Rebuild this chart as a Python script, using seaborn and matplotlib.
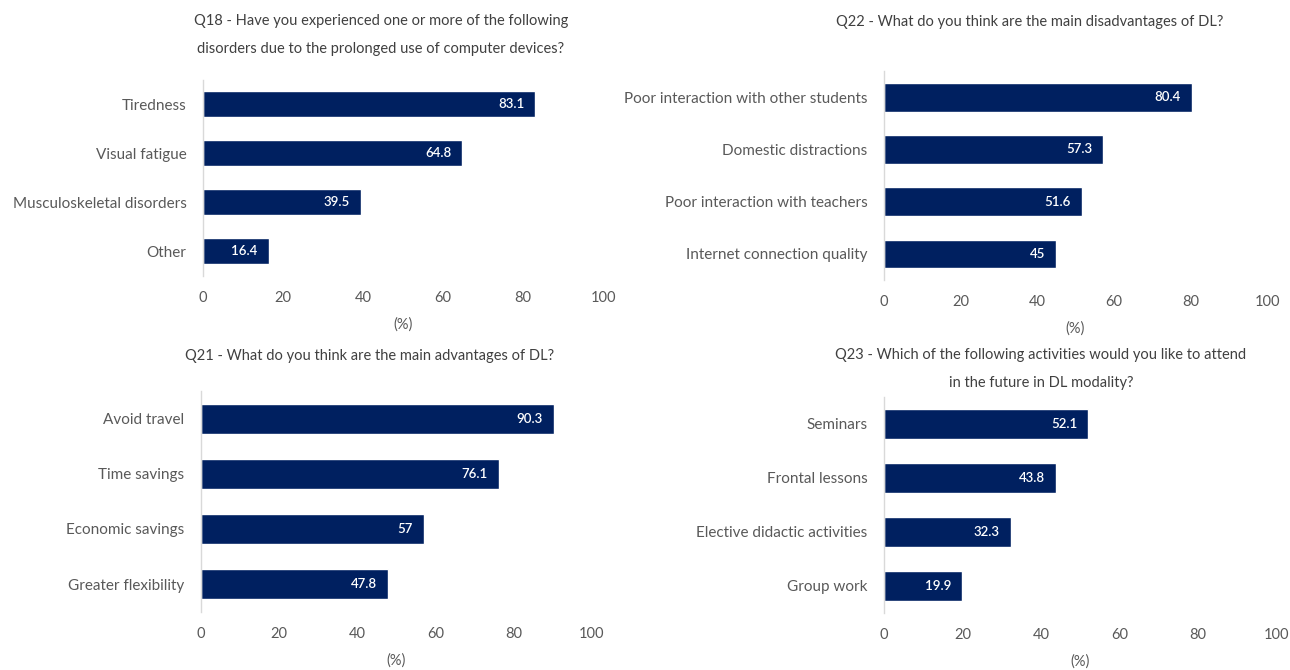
import matplotlib
matplotlib.use("Agg")
import matplotlib.pyplot as plt
import seaborn as sns
import pandas as pd

sns.set_style("white")
plt.rcParams['font.family'] = ['Lato', 'DejaVu Sans']

# ---- data ----
q18_title = "Q18 - Have you experienced one or more of the following\ndisorders due to the prolonged use of computer devices?"
q18_cats = ["Tiredness", "Visual fatigue", "Musculoskeletal disorders", "Other"]
q18_vals = [83.1, 64.8, 39.5, 16.4]

q22_title = "Q22 - What do you think are the main disadvantages of DL?"
q22_cats = ["Poor interaction with other students", "Domestic distractions",
            "Poor interaction with teachers", "Internet connection quality"]
q22_vals = [80.4, 57.3, 51.6, 45]

q21_title = "Q21 - What do you think are the main advantages of DL?"
q21_cats = ["Avoid travel", "Time savings", "Economic savings", "Greater flexibility"]
q21_vals = [90.3, 76.1, 57, 47.8]

q23_title = "Q23 - Which of the following activities would you like to attend\nin the future in DL modality?"
q23_cats = ["Seminars", "Frontal lessons", "Elective didactic activities", "Group work"]
q23_vals = [52.1, 43.8, 32.3, 19.9]

xticks = [0, 20, 40, 60, 80, 100]
xlabel = "(%)"

BAR = "#002060"
GREY = "#595959"

fig = plt.figure(figsize=(12.9, 6.7), dpi=100)

panels = [
    (q18_title, q18_cats, q18_vals, [0.1574, 0.5888, 0.3101, 0.2925], (381, 35)),
    (q22_title, q22_cats, q22_vals, [0.6853, 0.5821, 0.2969, 0.3119], (1030, 22)),
    (q21_title, q21_cats, q21_vals, [0.1558, 0.0873, 0.3031, 0.3284], (370, 356)),
    (q23_title, q23_cats, q23_vals, [0.6853, 0.0851, 0.3039, 0.3224], (1041, 369)),
]

for title, cats, vals, rect, (tx, ty) in panels:
    ax = fig.add_axes(rect)
    df = pd.DataFrame({"cat": cats, "val": vals})
    sns.barplot(data=df, x="val", y="cat", orient="h", color=BAR,
                width=0.55, ax=ax, saturation=1)
    ax.set_xlim(0, 100)
    ax.set_ylim(3.5, -0.5)
    ax.set_xticks(xticks)
    ax.set_xticklabels([str(t) for t in xticks])
    ax.tick_params(axis="x", length=0, pad=11, labelsize=10.5, labelcolor=GREY)
    ax.tick_params(axis="y", length=0, pad=12, labelsize=11, labelcolor=GREY)
    ax.set_ylabel("")
    ax.set_xlabel(xlabel, fontsize=10.5, color=GREY, labelpad=9)
    for s in ["top", "right", "bottom"]:
        ax.spines[s].set_visible(False)
    ax.spines["left"].set_color("#d9d9d9")
    ax.spines["left"].set_linewidth(1)
    for i, v in enumerate(vals):
        lab = f"{v:g}"
        ax.annotate(lab, xy=(v, i), xytext=(-8, 0), textcoords="offset points",
                    ha="right", va="center", color="white", fontsize=9.5,
                    fontweight="semibold")
    fig.text(tx / 1290, 1 - ty / 670, title, ha="center", va="center",
             fontsize=10.5, color="#404040", linespacing=2.2)

fig.savefig("out.png", dpi=100)
